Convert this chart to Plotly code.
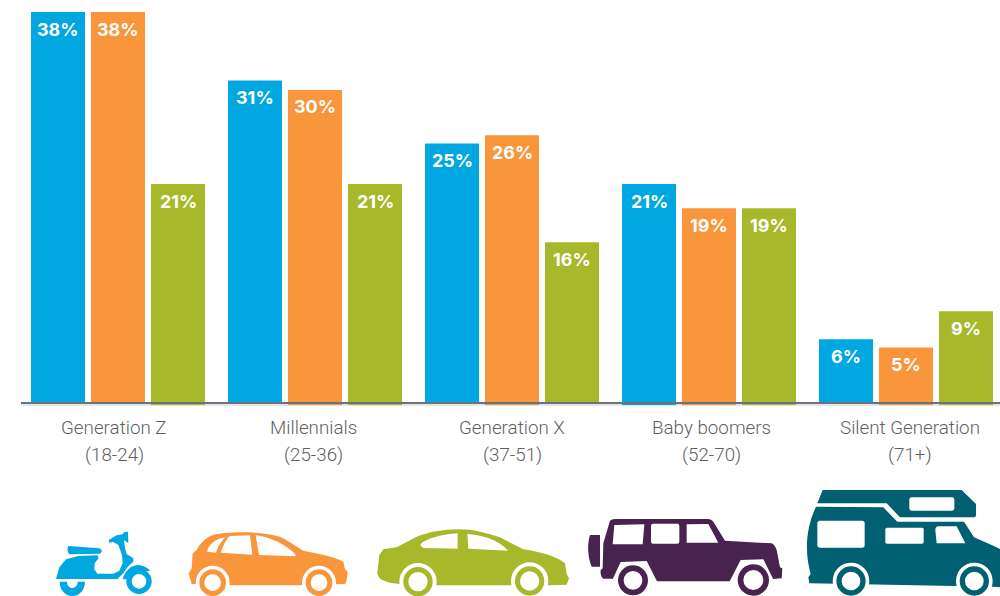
import plotly.graph_objects as go

# ---------- data ----------
generations = ["Generation Z", "Millennials", "Generation X", "Baby boomers", "Silent Generation"]
age_ranges = ["(18-24)", "(25-36)", "(37-51)", "(52-70)", "(71+)"]
series_a = [37.95, 31.3, 25.2, 21.25, 6.2]
series_b = [37.95, 30.4, 26.0, 18.9, 5.4]
series_c = [21.25, 21.25, 15.6, 18.9, 8.9]
bottoms_a = [0, 0, 0, -0.2, 0]
bottoms_b = [0, -0.2, -0.2, -0.2, -0.2]
bottoms_c = [-0.2, -0.2, 0, -0.2, -0.2]
labels_a = ["38%", "31%", "25%", "21%", "6%"]
labels_b = ["38%", "30%", "26%", "19%", "5%"]
labels_c = ["21%", "21%", "16%", "19%", "9%"]
color_a = "#00A7E1"
color_b = "#F9963B"
color_c = "#A7B82B"
color_purple = "#48234F"
color_teal = "#006072"

W, H = 1000, 596
BASE_PX = 403
PX_PER_UNIT = 10.3
PITCH = 197
FIRST_CENTER = 118
AXIS_LEFT = 21
LABEL_PITCH = 199
LABEL_FIRST = 114

fig = go.Figure()
for vals, bottoms, col in ((series_a, bottoms_a, color_a), (series_b, bottoms_b, color_b), (series_c, bottoms_c, color_c)):
    fig.add_trace(go.Bar(x=list(range(5)), y=[v - b for v, b in zip(vals, bottoms)], base=bottoms,
                         marker=dict(color=col, line_width=0), hoverinfo="skip", showlegend=False))

annots = []
for j, labels in enumerate((labels_a, labels_b, labels_c)):
    vals = (series_a, series_b, series_c)[j]
    for i, t in enumerate(labels):
        annots.append(dict(x=i + (j - 1) * 60 / PITCH, y=vals[i], xref="x", yref="y", text=t, showarrow=False,
                           yshift=-17, xanchor="center", yanchor="middle",
                           font=dict(family="Inter", size=18, color="white", weight=700)))
for i, t in enumerate(age_ranges):
    xlab = (LABEL_FIRST + LABEL_PITCH * i - FIRST_CENTER) / PITCH
    annots.append(dict(x=xlab, y=(BASE_PX - 455) / PX_PER_UNIT, xref="x", yref="y", text=t, showarrow=False,
                       xanchor="center", yanchor="middle",
                       font=dict(family="Roboto", size=18.8, color="#5F5F5F", weight=300)))
    annots.append(dict(x=xlab, y=(BASE_PX - 428) / PX_PER_UNIT, xref="x", yref="y", text=generations[i], showarrow=False,
                       xanchor="center", yanchor="middle",
                       font=dict(family="Roboto", size=18.8, color="#5F5F5F", weight=300)))

# ---------- vehicle icons (decoration) ----------
shapes = [dict(type="rect", xref="paper", yref="paper", x0=AXIS_LEFT / W, x1=1,
               y0=1 - 406 / H, y1=1 - 404 / H, fillcolor="#E3E5EC", line_width=0, layer="below")]


def tx(x, ox):
    return (ox + x / 3) / W


def ty(y):
    return 1 - (480 + y / 3) / H


def poly(path, color, ox=0):
    """path: list of (cmd, coords...) in zoom-crop units."""
    s = ""
    for seg in path:
        cmd = seg[0]
        s += cmd
        c = seg[1:]
        s += " ".join(f"{tx(c[k], ox):.5f},{ty(c[k + 1]):.5f}" for k in range(0, len(c), 2)) + " "
    shapes.append(dict(type="path", path=s + "Z", xref="paper", yref="paper", fillcolor=color, line_width=0, layer="above"))


def circle(cx, cy, r, color, ox=0):
    shapes.append(dict(type="circle", xref="paper", yref="paper",
                       x0=tx(cx - r, ox), x1=tx(cx + r, ox), y0=ty(cy + r), y1=ty(cy - r),
                       fillcolor=color, line_width=0, layer="above"))


def rrect(x0, y0, x1, y1, r, color, ox=0):
    poly([("M", x0 + r, y0), ("L", x1 - r, y0), ("Q", x1, y0, x1, y0 + r), ("L", x1, y1 - r),
          ("Q", x1, y1, x1 - r, y1), ("L", x0 + r, y1), ("Q", x0, y1, x0, y1 - r), ("L", x0, y0 + r),
          ("Q", x0, y0, x0 + r, y0)], color, ox)


def lines(pts, color, ox=0):
    poly([("M", *pts[0])] + [("L", *p) for p in pts[1:]], color, ox)


def wheel(cx, cy, arch, outer, inner, color, ox=0):
    if arch:
        circle(cx, cy, arch, "white", ox)
    circle(cx, cy, outer, color, ox)
    circle(cx, cy, inner, "white", ox)


# scooter
poly([("M", 205, 198), ("L", 298, 205), ("Q", 312, 212, 300, 221), ("L", 208, 223), ("Q", 198, 212, 205, 198)], color_a)
lines([(168, 297), (178, 262), (198, 238), (235, 228), (292, 226), (296, 234), (284, 250), (283, 268), (292, 281),
       (340, 281), (358, 272), (368, 250), (366, 225), (355, 195), (340, 186), (328, 188), (326, 180), (350, 166),
       (368, 163), (372, 157), (384, 155), (385, 190), (372, 180), (375, 205), (380, 222), (400, 235), (400, 245),
       (385, 258), (370, 280), (352, 297)], color_a)
wheel(417, 304, 0, 38, 22, color_a)
poly([("M", 368, 298), ("C", 375, 270, 395, 255, 415, 255), ("C", 430, 256, 445, 265, 450, 272),
      ("L", 420, 277), ("C", 395, 278, 385, 290, 380, 298)], color_a)
poly([("M", 179, 305), ("C", 179, 330, 196, 348, 217, 348), ("C", 238, 348, 255, 330, 255, 305), ("L", 233, 305),
      ("C", 233, 330, 201, 330, 201, 305)], color_a)

# hatchback
poly([("M", 566, 280), ("L", 575, 265), ("L", 578, 220), ("L", 590, 210), ("C", 600, 190, 620, 170, 640, 165),
      ("C", 680, 155, 780, 152, 840, 170), ("C", 870, 185, 890, 200, 910, 212), ("C", 960, 222, 1010, 232, 1030, 245),
      ("L", 1035, 268), ("L", 1043, 275), ("L", 1040, 300), ("L", 1035, 312), ("L", 900, 316), ("L", 690, 316),
      ("L", 575, 312)], color_b)
poly([("M", 622, 215), ("C", 622, 195, 650, 175, 675, 172), ("C", 660, 190, 652, 205, 648, 218)], "white")
poly([("M", 662, 218), ("C", 670, 195, 680, 175, 690, 168), ("L", 750, 166), ("L", 757, 224)], "white")
poly([("M", 767, 166), ("C", 810, 170, 860, 195, 888, 225), ("L", 885, 229), ("L", 777, 225)], "white")
wheel(638, 308, 51, 40, 25, color_b)
wheel(957, 308, 51, 40, 25, color_b)

# sedan
poly([("M", 1132, 280), ("L", 1138, 225), ("L", 1150, 208), ("L", 1190, 202), ("L", 1250, 170),
      ("C", 1300, 150, 1380, 140, 1440, 155), ("C", 1460, 160, 1480, 165, 1500, 172), ("L", 1570, 208),
      ("C", 1620, 215, 1670, 230, 1695, 250), ("L", 1700, 282), ("L", 1707, 295), ("L", 1700, 314), ("L", 1645, 316),
      ("L", 1310, 316), ("L", 1200, 312), ("C", 1160, 310, 1135, 300, 1132, 280)], color_c)
poly([("M", 1262, 192), ("C", 1280, 175, 1330, 163, 1373, 160), ("L", 1373, 206), ("L", 1270, 204),
      ("Q", 1260, 198, 1262, 192)], "white")
poly([("M", 1402, 162), ("C", 1440, 165, 1490, 175, 1525, 212), ("L", 1405, 206)], "white")
wheel(1254, 305, 56, 44, 29, color_c)
wheel(1589, 303, 56, 44, 29, color_c)

# SUV
SUV = 500
poly([("M", 270, 165), ("L", 300, 165), ("L", 300, 260), ("L", 275, 260), ("C", 262, 230, 262, 190, 270, 165)], color_purple, SUV)
poly([("M", 330, 122), ("Q", 335, 117, 345, 117), ("L", 625, 117), ("Q", 635, 118, 640, 125), ("L", 675, 182),
      ("L", 815, 190), ("Q", 825, 195, 830, 210), ("L", 840, 262), ("L", 847, 265), ("L", 845, 295), ("L", 820, 297),
      ("L", 688, 304), ("L", 470, 304), ("L", 345, 296), ("L", 310, 296), ("Q", 300, 290, 302, 270), ("L", 308, 265),
      ("L", 310, 190)], color_purple, SUV)
lines([(338, 298), (362, 246), (440, 243), (472, 306), (340, 310)], "white", SUV)
lines([(688, 306), (722, 240), (790, 238), (820, 298), (820, 312)], "white", SUV)
lines([(343, 135), (433, 133), (428, 193), (338, 193)], "white", SUV)
rrect(453, 131, 538, 191, 6, "white", SUV)
poly([("M", 560, 133), ("L", 625, 132), ("L", 655, 188), ("L", 560, 188)], "white", SUV)
wheel(399, 301, 0, 45, 28, color_purple, SUV)
wheel(760, 300, 0, 47, 30, color_purple, SUV)

# camper
poly([("M", 968, 30), ("L", 1385, 30), ("L", 1428, 72), ("L", 1428, 105), ("Q", 1428, 112, 1420, 112), ("L", 1200, 112),
      ("L", 1160, 70), ("L", 952, 70)], color_teal, SUV)
poly([("M", 948, 80), ("L", 1150, 82), ("L", 1192, 125), ("L", 1392, 125), ("L", 1422, 172), ("L", 1480, 197),
      ("L", 1500, 207), ("L", 1500, 322), ("L", 1480, 320), ("L", 928, 310), ("L", 925, 292), ("L", 932, 282),
      ("C", 915, 220, 915, 150, 948, 80)], color_teal, SUV)
rrect(952, 122, 1094, 203, 8, "white", SUV)
rrect(1156, 143, 1271, 191, 5, "white", SUV)
poly([("M", 1306, 150), ("Q", 1306, 140, 1316, 139), ("L", 1370, 139), ("L", 1396, 190), ("L", 1310, 190)], "white", SUV)
rrect(1228, 52, 1363, 92, 7, "white", SUV)
wheel(1053, 303, 55, 44, 28, color_teal, SUV)
wheel(1423, 303, 55, 44, 28, color_teal, SUV)

fig.update_layout(
    width=W, height=H, margin=dict(l=0, r=0, t=0, b=0), autosize=False,
    paper_bgcolor="rgba(0,0,0,0)", plot_bgcolor="rgba(0,0,0,0)",
    barmode="group", bargap=17 / PITCH, bargroupgap=0.1,
    shapes=shapes, annotations=annots,
    xaxis=dict(domain=[AXIS_LEFT / W, 1],
               range=[(AXIS_LEFT - FIRST_CENTER) / PITCH, (W - FIRST_CENTER) / PITCH],
               anchor="free", position=(H - BASE_PX) / H,
               showgrid=False, zeroline=False, showticklabels=False, ticks="",
               showline=True, linecolor="#6D7278", linewidth=1.5),
    yaxis=dict(domain=[0, 1],
               range=[(BASE_PX - H) / PX_PER_UNIT, BASE_PX / PX_PER_UNIT],
               visible=False),
)

fig.write_html("out.html", config={"displayModeBar": False},
               post_script="document.body.style.margin='0';document.body.style.overflow='hidden';")
